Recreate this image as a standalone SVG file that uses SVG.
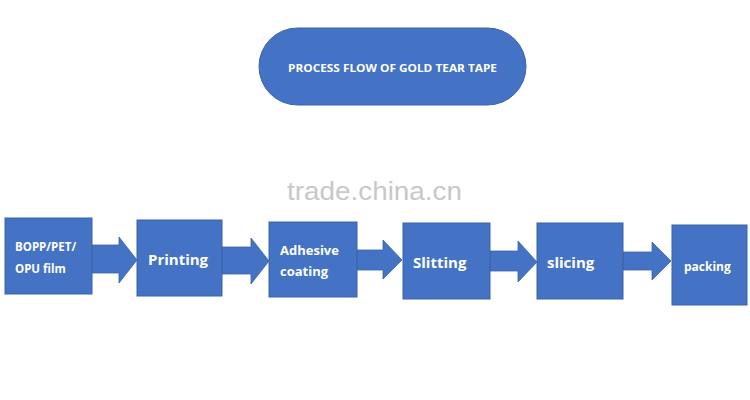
<svg xmlns="http://www.w3.org/2000/svg" width="750" height="400" viewBox="0 0 750 400">
<style>
.box{fill:#4472C4;stroke:#3A62AA;stroke-width:1}
.arr{fill:#4472C4;stroke:#3A62AA;stroke-width:0.8}
.t{fill:#FFFFFF;font-family:"Open Sans","Liberation Sans",sans-serif;font-weight:bold}
.wm{fill:#C8C8C8;font-family:"Liberation Sans",Arial,sans-serif;font-size:25px}
</style>
<rect width="750" height="400" fill="#FFFFFF"/>
<g id="title">
<rect class="box" x="259" y="28" width="267" height="77" rx="38.5" ry="38.5"/>
<text class="t" x="392.5" y="72" font-size="10.5" text-anchor="middle" textLength="209" lengthAdjust="spacingAndGlyphs">PROCESS FLOW OF GOLD TEAR TAPE</text>
</g>
<text class="wm" x="287" y="200" textLength="175" lengthAdjust="spacingAndGlyphs">trade.china.cn</text>
<g id="connectors">
<polygon class="arr" points="92,245 119,245 119,237 137,260 119,283 119,273 92,273"/>
<polygon class="arr" points="222,247 251,247 251,238 269,261 251,284 251,274 222,274"/>
<polygon class="arr" points="357,250 383,250 383,240 402,260 383,279 383,270 357,270"/>
<polygon class="arr" points="490,251 518,251 518,241 537,262 518,282 518,271 490,271"/>
<polygon class="arr" points="623,252 652,252 652,242 671,261 652,280 652,270 623,270"/>
</g>
<g id="n1">
<rect class="box" x="5" y="218" width="87" height="76"/>
<text class="t" x="15" y="251" font-size="11.5">BOPP/PET/</text>
<text class="t" x="15" y="273" font-size="11.5">OPU film</text>
</g>
<g id="n2">
<rect class="box" x="137" y="220" width="85" height="76"/>
<text class="t" x="148" y="265" font-size="15">Printing</text>
</g>
<g id="n3">
<rect class="box" x="269" y="222" width="88" height="75"/>
<text class="t" x="280" y="255" font-size="13">Adhesive</text>
<text class="t" x="280" y="276" font-size="13">coating</text>
</g>
<g id="n4">
<rect class="box" x="403" y="223" width="87" height="76"/>
<text class="t" x="413" y="268" font-size="15">Slitting</text>
</g>
<g id="n5">
<rect class="box" x="537" y="223" width="86" height="76"/>
<text class="t" x="547" y="268" font-size="15">slicing</text>
</g>
<g id="n6">
<rect class="box" x="672" y="225" width="75" height="80"/>
<text class="t" x="684" y="271" font-size="12">packing</text>
</g>
</svg>
